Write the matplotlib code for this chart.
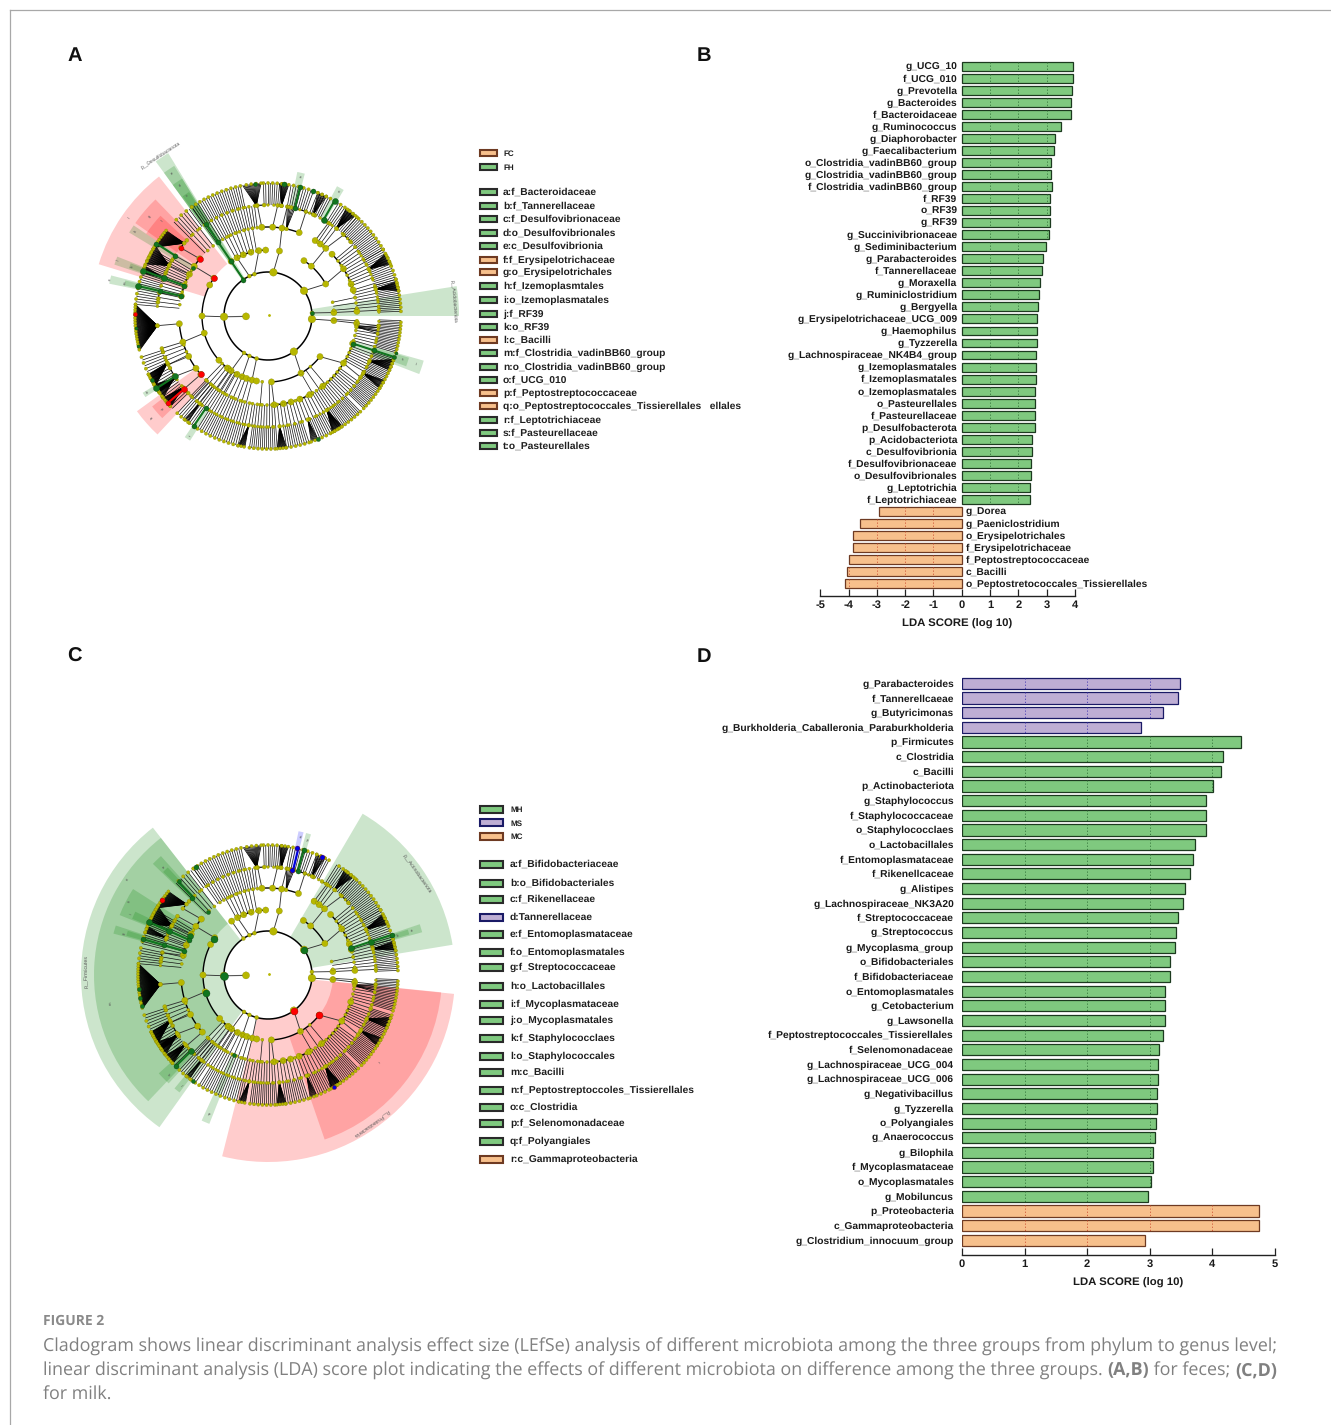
import numpy as np
import matplotlib
matplotlib.use("Agg")
import matplotlib.pyplot as plt
from matplotlib.lines import Line2D
from matplotlib.patches import Rectangle

W, H = 1331, 1425
SANS = 'Liberation Sans'

# ---------- bar data ----------
b_names = ['g_UCG_10','f_UCG_010','g_Prevotella','g_Bacteroides','f_Bacteroidaceae','g_Ruminococcus','g_Diaphorobacter',
 'g_Faecalibacterium','o_Clostridia_vadinBB60_group','g_Clostridia_vadinBB60_group','f_Clostridia_vadinBB60_group',
 'f_RF39','o_RF39','g_RF39','g_Succinivibrionaceae','g_Sediminibacterium','g_Parabacteroides','f_Tannerellaceae',
 'g_Moraxella','g_Ruminiclostridium','g_Bergyella','g_Erysipelotrichaceae_UCG_009','g_Haemophilus','g_Tyzzerella',
 'g_Lachnospiraceae_NK4B4_group','g_Izemoplasmatales','f_Izemoplasmatales','o_Izemoplasmatales','o_Pasteurellales',
 'f_Pasteurellaceae','p_Desulfobacterota','p_Acidobacteriota','c_Desulfovibrionia','f_Desulfovibrionaceae',
 'o_Desulfovibrionales','g_Leptotrichia','f_Leptotrichiaceae','g_Dorea','g_Paeniclostridium','o_Erysipelotrichales',
 'f_Erysipelotrichaceae','f_Peptostreptococcaceae','c_Bacilli','o_Peptostretococcales_Tissierellales']
b_values = [3.94,3.94,3.89,3.87,3.87,3.49,3.31,3.26,3.16,3.16,3.17,3.12,3.12,3.12,3.08,2.96,2.87,2.84,2.76,2.73,2.69,
 2.67,2.67,2.66,2.63,2.61,2.61,2.60,2.59,2.59,2.59,2.49,2.48,2.46,2.46,2.41,2.41,
 -2.93,-3.59,-3.84,-3.84,-3.98,-4.06,-4.11]
b_groups = ['H']*37 + ['C']*7

d_names = ['g_Parabacteroides','f_Tannerellcaeae','g_Butyricimonas','g_Burkholderia_Caballeronia_Paraburkholderia',
 'p_Firmicutes','c_Clostridia','c_Bacilli','p_Actinobacteriota','g_Staphylococcus','f_Staphylococcaceae',
 'o_Staphylococclaes','o_Lactobacillales','f_Entomoplasmataceae','f_Rikenellcaceae','g_Alistipes',
 'g_Lachnospiraceae_NK3A20','f_Streptococcaceae','g_Streptococcus','g_Mycoplasma_group','o_Bifidobacteriales',
 'f_Bifidobacteriaceae','o_Entomoplasmatales','g_Cetobacterium','g_Lawsonella','f_Peptostreptococcales_Tissierellales',
 'f_Selenomonadaceae','g_Lachnospiraceae_UCG_004','g_Lachnospiraceae_UCG_006','g_Negativibacillus','g_Tyzzerella',
 'o_Polyangiales','g_Anaerococcus','g_Bilophila','f_Mycoplasmataceae','o_Mycoplasmatales','g_Mobiluncus',
 'p_Proteobacteria','c_Gammaproteobacteria','g_Clostridium_innocuum_group']
d_values = [3.48,3.46,3.21,2.87,4.46,4.18,4.14,4.02,3.90,3.90,3.90,3.72,3.70,3.64,3.57,3.53,3.45,3.43,3.41,3.33,3.33,
 3.25,3.24,3.24,3.21,3.15,3.14,3.13,3.12,3.12,3.11,3.08,3.06,3.06,3.03,2.97,4.75,4.75,2.93]
d_groups = ['S']*4 + ['H']*32 + ['C']*3

b_ticks = [-5,-4,-3,-2,-1,0,1,2,3,4]
d_ticks = [0,1,2,3,4,5]

FILL = {'H':'#7fc97f','C':'#f7c08c','S':'#beaed4'}
EDGE = {'H':'#1c3a1f','C':'#6e3a22','S':'#1a1a66'}
DOT  = {'H':'#2b6b33','C':'#c8452a','S':'#3a2fb0'}

# ---------- legends ----------
leg_a_head = [('FC','C',153),('FH','H',167)]
leg_a = [('a:f_Bacteroidaceae','H',192),('b:f_Tannerellaceae','H',206),('c:f_Desulfovibrionaceae','H',219),
 ('d:o_Desulfovibrionales','H',233),('e:c_Desulfovibrionia','H',246),('f:f_Erysipelotrichaceae','C',260),
 ('g:o_Erysipelotrichales','C',272),('h:f_Izemoplasmtales','H',286),('i:o_Izemoplasmatales','H',300),
 ('j:f_RF39','H',314),('k:o_RF39','H',327),('l:c_Bacilli','C',340),('m:f_Clostridia_vadinBB60_group','H',353),
 ('n:o_Clostridia_vadinBB60_group','H',367),('o:f_UCG_010','H',380),('p:f_Peptostreptococcaceae','C',393),
 ('q:o_Peptostreptococcales_Tissierellales   ellales','C',406),('r:f_Leptotrichiaceae','H',420),
 ('s:f_Pasteurellaceae','H',433),('t:o_Pasteurellales','H',446)]
leg_c_head = [('MH','H',809),('MS','S',823),('MC','C',836)]
leg_c = [('a:f_Bifidobacteriaceae','H',864),('b:o_Bifidobacteriales','H',883),('c:f_Rikenellaceae','H',899),
 ('d:Tannerellaceae','S',917),('e:f_Entomoplasmataceae','H',934),('f:o_Entomoplasmatales','H',952),
 ('g:f_Streptococcaceae','H',967),('h:o_Lactobacillales','H',986),('i:f_Mycoplasmataceae','H',1004),
 ('j:o_Mycoplasmatales','H',1020),('k:f_Staphylococclaes','H',1038),('l:o_Staphylococcales','H',1056),
 ('m:c_Bacilli','H',1072),('n:f_Peptostreptoccoles_Tissierellales','H',1090),('o:c_Clostridia','H',1107),
 ('p:f_Selenomonadaceae','H',1123),('q:f_Polyangiales','H',1141),('r:c_Gammaproteobacteria','C',1159)]

# ---------- cladogram tree (angles in degrees, levels 1..5 = phylum..genus) ----------
L1_big = [181, 83, 35, -4, -54]
L1_small = [124, 115, 108, 4, -105, -115, -123]
branches = [  # level of parent, parent angle, child angles on the next ring
 (1,83,[80]),(1,35,[29,49,57]),(1,4,[3]),(1,-4,[-4]),(1,-54,[-38,-87,-60]),(1,181,[145,152,195,233,222,180]),
 (1,124,[124]),(1,115,[118,112,105]),(1,108,[98,92]),(1,-105,[-104,-100]),(1,-115,[-113,-109]),(1,-123,[-124,-118,-128]),
 (2,80,[94,87,81,69.5]),(2,49,[58,54,49.5]),(2,29,[44,32,21,17]),(2,3,[3]),(2,-4,[-4.7]),(2,-38,[-18,-32,-52]),
 (2,-87,[-86,-80,-75,-69,-62]),(2,145,[140,146,152,160,167]),(2,195,[185,197,207,216,221]),
 (3,69.5,[76,70,65]),(3,58,[60,57]),(3,49.5,[47,42]),(3,185,[185]),(3,197,[197,199]),(3,207,[202,206]),(3,216,[208,213]),
 (3,221,[221,224]),(3,140,[142,137]),(3,146,[147]),(3,152,[153,150]),(3,160,[160,157]),(3,167,[168,171,173]),
 (3,-18,[-18]),(3,-32,[-33.5]),(3,-4.7,[-5]),(3,3,[3]),(3,94,[95.5,92]),(3,87,[85,83]),(3,81,[80,78]),
]
combs = [  # level, first angle, last angle, lines
 (2,100,119,8),(2,5,12,3),(2,-3,-2,1),(2,226,240,6),(2,-125,-104,8),(2,-95,-89,2),(2,-60,-50,3),
 (3,97,125,20),(3,20,40,12),(3,5,17,8),(3,-16,-6,7),(3,-30,-20,8),(3,-60,-36,17),(3,-84,-62,12),(3,-100,-86,10),
 (3,-133,-102,21),(3,226,232,4),(3,128,135,4),(3,52,56,3),(3,149,159,8),(3,161,166,4),(3,168,175,4),(3,199,206,4),
 (4,2,16,17),(4,16,30,15),(4,30,48,20),(4,48,58,10),(4,62,68,7),(4,70,80,10),(4,84,92,9),(4,102,125,23),(4,125,135,8),
 (4,-16,-2,20),(4,-30,-18,17),(4,-44,-32,16),(4,-58,-46,15),(4,-68,-60,9),(4,-82,-72,11),(4,-98,-86,14),(4,-122,-102,20),
 (4,-133,-124,9),(4,150,159,11),(4,161,166,6),(4,168,175,7),(4,198,206,7),(4,208,212,4),(4,-145,-136,8),
]
fans = [  # level of parent, parent angle, first child, last child, lines
 (4,185,175,195,70),(4,96,93,101,16),(4,83,81,85,12),(4,66,64,68,9),(4,52,49,54,15),(4,25,23,28,16),(4,14,11,15,14),
 (4,-24,-24,-19,14),(4,-31,-33,-29,12),(4,-58,-61,-56,18),(4,-69,-71,-68,8),(4,-84,-86,-82,14),(4,-100,-103,-100,10),
 (4,153,148,157,24),(4,205,206,212,26),(4,-140,-142,-137,18),(4,-146,-149,-145,14),(4,139,140,149,30),(4,160,158,161,10),
 (4,213,213,218,16),(4,-128,-129,-127,5),(3,78,76,80,6),(3,-7,-9,-5,5),
]

# ---------- panel A highlights ----------
a_rings = [22,44,66,89,111,133]
a_outer = [0,191,177,162,147,147]
a_center = (268,316)
a_sectors = [(128,163,2,'r'),(134,145,3,'r'),(137,146,4,'r'),(146,149,3,'g'),(158.5,161.5,3,'g'),(159,161,4,'g'),
 (165.5,168.5,3,'g'),(166,168,4,'g'),(121.5,126,1,'g'),(122,126,2,'g'),(122,126,3,'g'),(122.5,125.5,4,'g'),
 (75.5,78.5,4,'g'),(59,62,4,'g'),(0,9,1,'g'),(-21,-16,3,'g'),(-20,-16.5,4,'g'),(216,227,3,'r'),(218,224,4,'r'),
 (211.5,213.5,4,'g'),(235.5,238,4,'g')]
a_thick = [(4,5,76,'g'),(4,5,60,'g'),(3,5,-18,'g'),(3,5,160,'g'),(3,5,167,'g'),(4,5,147,'g'),(4,5,213,'g'),
 (4,5,236,'g'),(4,5,221,'r'),(1,2,124,'g'),(2,3,124,'g'),(3,4,124,'g')]
a_nodes = [(1,124,'g',5),(2,124,'g',5),(3,124,'g',5),(4,124,'g',5),(1,4,'g',4),(4,76,'g',5),(5,76,'g',5),(5,70,'g',5),
 (5,83,'g',5),(5,95.5,'g',4),(4,60,'g',6),(5,60,'g',6),(3,-18,'g',5),(4,-18,'g',5),(5,-18,'g',4),(5,-16,'g',3),
 (3,160,'g',5),(4,160,'g',6),(5,160,'g',6),(3,167,'g',5),(4,167,'g',5),(5,167,'g',6),(3,147,'g',4),(4,147,'g',5),
 (5,147,'g',5),(4,213,'g',6),(5,213,'g',6),(5,209,'g',4),(4,236,'g',5),(5,236,'g',5),(5,-68,'g',4),(5,185,'g',3),
 (5,193,'g',3),(2,145,'r',6),(3,140,'r',6),(4,142,'r',5),(3,221,'r',6),(4,221,'r',6),(5,221,'r',5),(5,179,'r',4)]
a_labels = [(123.6,193,'p__Desulfobacterota',33,3.6),(4.5,186,'p__Acidobacteriota',-86,3.6),(145,170,'l',55,3),
 (140,155,'g',50,3),(138,142,'f',50,3),(147.5,157,'h',55,3),(160,160,'j',70,3),(160,145,'k',70,3),(167,162,'n',75,3),
 (167,147,'m',75,3),(221,155,'q',-50,3),(221,141,'p',-50,3),(124,172,'e',35,3),(124,158,'d',35,3),(124,145,'c',35,3),
 (77,143,'a',-10,3),(60.5,143,'o',-30,3),(-18,155,'t',-18,3),(-18,141,'s',-18,3),(212.5,143,'b',30,3),(237,143,'r',60,3)]

# ---------- panel C highlights ----------
c_rings = [22,44,65,87,108,130]
c_outer = [0,187,174,160,147,147]
c_center = (268,975)
c_sectors = [(128,234.5,1,'g'),(128,226.5,2,'g'),(147.5,158,3,'g'),(154.5,157.5,4,'g'),(132,136,3,'g'),(133,135.5,4,'g'),
 (162,165,3,'g'),(162.5,164.5,4,'g'),(222,227.5,4,'g'),(230.5,233,4,'g'),(245.5,248.5,3,'g'),(76,78,4,'b'),(73,75,4,'g'),
 (9.3,59.6,1,'g'),(15.5,18.5,3,'g'),(16,18,4,'g'),(-104.2,-5.8,1,'r'),(-71,-5.7,2,'r')]
c_thick = [(4,5,76.5,'b'),(4,5,74,'g'),(3,5,18,'g'),(3,5,156,'g'),(3,5,164,'g'),(4,5,134,'g'),(4,5,224.7,'g')]
c_nodes = [(1,181,'g',8),(1,35,'g',7),(2,146,'g',7),(2,196,'g',7),(3,153,'g',6),(3,134,'g',4),(4,134.5,'g',5),
 (5,133.5,'g',4),(1,-54,'r',7),(2,-38,'r',7),(5,77,'b',5),(4,77,'b',5),(4,74,'g',5),(5,74,'g',5),(5,65.5,'b',5),
 (5,-59.6,'b',4),(5,123.6,'g',5),(5,145,'r',5),(3,18,'g',6),(4,18,'g',6),(5,18,'g',5),(3,156,'g',5),(4,156,'g',6),
 (5,156,'g',6),(3,164,'g',5),(4,164,'g',5),(5,164,'g',5),(5,186,'g',4),(5,190,'g',4),(5,194,'g',4),(4,224.7,'g',6),
 (5,224.7,'g',5),(5,235,'g',4),(3,247,'g',4)]
c_labels = [(34.4,180,'p__Actinobacteriota',-55,3.8),(179,182,'p__Firmicutes',90,3.8),(-55,181,'p__Proteobacteria',215,3.8),
 (-38,140,'r',232,3),(190,160,'m',90,3),(152,157,'h',65,3),(146,170,'n',58,3),(225,141,'k',-45,3),(232,141,'l',-52,3),
 (247,150,'q',-65,3),(77,141,'d',-13,3),(74,141,'p',-15,3),(17,150,'a',15,3),(17,136,'b',15,3),(134,150,'e',45,3),
 (164,150,'g',75,3),(156,150,'i',68,3)]

# ---------- caption ----------
cap_title = 'FIGURE 2'
cap_line1 = 'Cladogram shows linear discriminant analysis effect size (LEfSe) analysis of different microbiota among the three groups from phylum to genus level;'
cap_line2 = [('linear discriminant analysis (LDA) score plot indicating the effects of different microbiota on difference among the three groups. ',False),
             ('(A,B)',True),(' for feces; ',False),('(C,D)',True)]
cap_line3 = 'for milk.'

plt.rcParams['font.family'] = [SANS, 'DejaVu Sans']
plt.rcParams['text.hinting'] = 'none'
plt.rcParams['axes.unicode_minus'] = False
fig = plt.figure(figsize=(W/100, H/100), dpi=100, facecolor='white')

def fx(x): return x/W
def fy(y): return 1-y/H
def ftext(x, y, s, **kw):
    kw.setdefault('va','center')
    return fig.text(fx(x), fy(y), s, **kw)

fig.add_artist(Line2D([fx(10),1],[fy(10),fy(10)],color='#a8a8a8',lw=0.9))
fig.add_artist(Line2D([fx(10),fx(10)],[fy(10),0],color='#a8a8a8',lw=0.9))

for s,x,y in [('A',67,56),('B',697,56),('C',67,657),('D',697,657)]:
    ftext(x,y,s,fontsize=14.5,fontweight='bold',color='#111111',ha='left')

# ---------- bar panels ----------
def bars(left, right, top, bottom, xlim, ylim, names, values, groups, ticks, h, gap_fn, label_fs, pad):
    ax = fig.add_axes([fx(left), fy(bottom), (right-left)/W, (bottom-top)/H])
    ax.set_xlim(*xlim); ax.set_ylim(*ylim)
    ax.patch.set_alpha(0)
    y = np.arange(len(values))
    ax.barh(y, values, height=h, color=[FILL[g] for g in groups], edgecolor=[EDGE[g] for g in groups], linewidth=0.9, zorder=2)
    for yi, v, g in zip(y, values, groups):
        for t in ticks:
            if t != 0 and abs(t) < abs(v) and t*v > 0:
                ax.plot([t,t],[yi-h/2,yi+h/2],ls=(0,(1,2.2)),lw=0.7,color=DOT[g],zorder=3)
    for yi, n, v, g in zip(y, names, values, groups):
        off, ha = gap_fn(v)
        ax.annotate(n, xy=(0,yi), xytext=(off*0.72,-0.5), textcoords='offset points', ha=ha, va='center',
                    fontsize=label_fs, fontweight='bold', color='#1a1a1a')
    for s in ['top','left','right']:
        ax.spines[s].set_visible(False)
    ax.spines['bottom'].set_linewidth(1.0)
    ax.spines['bottom'].set_color('#222222')
    ax.set_yticks([])
    ax.set_xticks(ticks)
    ax.tick_params(axis='x', direction='in', length=5.2, width=0.9, color='#222222', pad=pad, labelsize=8.0)
    for l in ax.get_xticklabels():
        l.set_fontweight('bold'); l.set_color('#1a1a1a')
    return ax

bars(820.3,1075,60,595.7,(-5,4),(44.0,-0.52),b_names,b_values,b_groups,b_ticks,0.74,
     lambda v:(-4.5,'right') if v>0 else (4,'left'),7.4,3.0)
ftext(957,623.5,'LDA SCORE (log 10)',fontsize=8.2,fontweight='bold',ha='center',color='#1a1a1a')
bars(962,1274.5,675,1255,(0,5),(39.0,-0.57),d_names,d_values,d_groups,d_ticks,0.76,
     lambda v:(-8,'right'),7.4,3.0)
ftext(1128,1282.5,'LDA SCORE (log 10)',fontsize=8.2,fontweight='bold',ha='center',color='#1a1a1a')

# ---------- legends ----------
def legend(rows, heads, x0, x1, tx, h, fs):
    for rowset, size in ((heads, fs*0.78), (rows, fs)):
        for t,g,y in rowset:
            fig.add_artist(Rectangle((fx(x0),fy(y+h/2)),(x1-x0)/W,h/H,transform=fig.transFigure,
                           facecolor=FILL[g],edgecolor='#2a2a2a' if g=='H' else EDGE[g],linewidth=1.5))
            ftext(tx,y+0.5,t,fontsize=size,fontweight='bold',color='#1f1f1f',ha='left')
legend(leg_a,leg_a_head,480,497,503,5.5,7.35)
legend(leg_c,leg_c_head,480,503,510,7,7.35)

# ---------- cladograms ----------
NODE = {'g':'#11751f','r':'#ff0000','b':'#0000e0'}
SECT = {'g':'#008000','r':'#ff0000','b':'#0000ff'}
YEL = '#b7b700'; YEDGE = '#7c7c00'

def cladogram(center, rings, outer, sectors, thick, nodes, labels):
    R = 200
    ax = fig.add_axes([fx(center[0]-R), fy(center[1]+R), 2*R/W, 2*R/H], polar=True)
    ax.set_rlim(0, R); ax.set_axis_off(); ax.patch.set_alpha(0)
    rad = np.deg2rad
    for a0,a1,lv,c in sectors:
        ax.bar(rad((a0+a1)/2), outer[lv]-rings[lv], width=rad(a1-a0), bottom=rings[lv], color=SECT[c], alpha=0.2,
               linewidth=0, zorder=1)
    xs, ys, ss = [], [], []
    def pt(lv,a,s):
        xs.append(rad(a)); ys.append(rings[lv]); ss.append(s)
    def seg(a0,r0,a1,r1,lw=0.5,col='#111111',z=2):
        ax.plot([rad(a0),rad(a1)],[r0,r1],color=col,lw=lw,zorder=z,solid_capstyle='butt')
    def arc(r,a0,a1,lw=1.0):
        t = np.linspace(rad(a0),rad(a1),max(int(abs(a1-a0))*2,2))
        ax.plot(t,np.full_like(t,r),color='black',lw=lw,zorder=2)
    arc(rings[1],0,360,1.1)
    seg(181,rings[0],181,rings[1],0.8,'#555555')
    pt(0,181,26)
    ax.scatter([rad(20)],[1.5],s=1,c=YEL,zorder=3)
    for a in L1_big: pt(1,a,30)
    for a in L1_small: pt(1,a,8)
    for lv,p,ch in branches:
        r0, r1 = rings[lv], rings[lv+1]
        near = min(ch,key=lambda c:abs(c-p))
        seg(p,r0,near,r1,0.65,'#333333')
        if len(ch)>1:
            arc(r1,min(ch),max(ch),1.0 if lv<3 else 0.8)
        for c in ch:
            pt(lv+1,c,20 if lv<3 else 8)
    for lv,a0,a1,n in combs:
        for i,a in enumerate(np.linspace(a0,a1,n)):
            seg(a,rings[lv],a,rings[lv+1],0.5)
            if lv==4:
                if i%2==0: pt(5,a,5.5)
                if i%3==0: pt(4,a,4)
            else:
                if i%2==0:
                    pt(lv,a,5); pt(lv+1,a,5)
    for lv,p,a0,a1,n in fans:
        for i,a in enumerate(np.linspace(a0,a1,n)):
            seg(p,rings[lv],a,rings[lv+1],0.55,'black')
            if i%4==0: pt(lv+1,a,5)
        pt(lv,p,8)
    ax.scatter(xs,ys,s=ss,c=YEL,edgecolors=YEDGE,linewidths=0.2,zorder=4)
    for l0,l1,a,c in thick:
        seg(a,rings[l0],a,rings[l1],1.5,NODE[c],5)
    for lv,a,c,d in nodes:
        ax.scatter([rad(a)],[rings[lv]],s=(d*0.72)**2,c=NODE[c],edgecolors='#0a3a10' if c=='g' else '#7a0000',
                   linewidths=0.25,zorder=6)
    for a,r,t,rot,fs in labels:
        ax.text(rad(a),r,t,rotation=rot,rotation_mode='anchor',ha='center',va='center',fontsize=fs,color='#555555',zorder=7)
    return ax

cladogram(a_center,a_rings,a_outer,a_sectors,a_thick,a_nodes,a_labels)
cladogram(c_center,c_rings,c_outer,c_sectors,c_thick,c_nodes,c_labels)

# ---------- caption ----------
CAPC = '#808080'
CF = 'Open Sans'
CS = 11.9
r = fig.canvas.get_renderer()
ftext(43,1321,cap_title,fontsize=10,fontweight='bold',color='#8a8a8a',family=CF,ha='left')
t1 = ftext(43,1344.5,cap_line1,fontsize=CS,color=CAPC,family=CF,ha='left',va='center_baseline')
CS2 = CS*1235/t1.get_window_extent(r).width
t1.set_fontsize(CS2)
x = 43
for t,b in cap_line2:
    tt = ftext(x,1368.5,t,fontsize=CS2,color=CAPC,family=CF,ha='left',va='center_baseline',fontweight='bold' if b else 'normal')
    x += tt.get_window_extent(r).width
ftext(43,1392.5,cap_line3,fontsize=CS2,color=CAPC,family=CF,ha='left',va='center_baseline')

fig.savefig('out.png',dpi=100,facecolor='white')
